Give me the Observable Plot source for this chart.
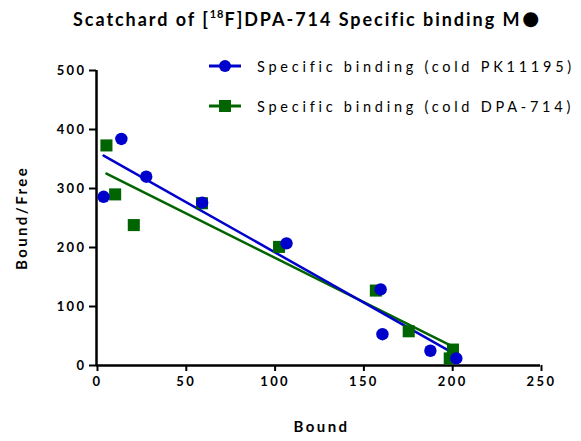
<!DOCTYPE html>
<html>
<head>
<meta charset="utf-8">
<script src="https://cdn.jsdelivr.net/npm/d3@7"></script>
<script src="https://cdn.jsdelivr.net/npm/@observablehq/plot@0.6"></script>
<style>
  body { margin: 0; background: #fff; }
  #wrap { position: relative; width: 581px; height: 441px; font-family: Lato, "Open Sans", sans-serif; color: #000; }
  #title { position: absolute; left: 73px; top: 8px; font-size: 18px; line-height: 22px; font-weight: bold; letter-spacing: 1.95px; white-space: nowrap; }
  #title sup { font-size: 11px; letter-spacing: 1px; vertical-align: 8px; line-height: 0; }
  #title .dot { font-size: 30px; vertical-align: -3px; line-height: 0; letter-spacing: 0; }
  .lg { position: absolute; left: 209px; display: flex; align-items: center; font-size: 14.5px; letter-spacing: 3.75px; white-space: nowrap; }
  .lg svg { margin-right: 16px; }
</style>
</head>
<body>
<div id="wrap">
  <div id="chart"></div>
  <div id="title">Scatchard of [<sup>18</sup>F]DPA-714 Specific binding M<span class="dot">●</span></div>
  <div id="legend"></div>
</div>
<script>
// Scatchard data: Bound vs Bound/Free, two competitors
const boundPK   = [4, 14, 28, 59.5, 107, 160, 161, 188, 202.6];
const ratioPK   = [286, 384, 320, 276, 207, 129, 53, 25, 12];
const boundDPA  = [5.6, 10.5, 21, 59.4, 102.8, 157.3, 175.8, 198.9, 200.7];
const ratioDPA  = [373, 290, 238, 275, 201, 127, 58, 12, 27];

const seriesNames = ["Specific binding (cold PK11195)", "Specific binding (cold DPA-714)"];
const seriesColors = ["#0000cd", "#006400"];
const seriesSymbols = ["circle", "square"];

const xTicks = [0, 50, 100, 150, 200, 250];
const yTicks = [0, 100, 200, 300, 400, 500];

const pk = boundPK.map((b, i) => ({bound: b, ratio: ratioPK[i]}));
const dpa = boundDPA.map((b, i) => ({bound: b, ratio: ratioDPA[i]}));

const tickStyle = {fontSize: 13, fontWeight: "bold"};

const chart = Plot.plot({
  width: 581,
  height: 441,
  marginTop: 70,
  marginRight: 41,
  marginBottom: 76,
  marginLeft: 96,
  style: {fontFamily: "Lato, 'Open Sans', sans-serif", letterSpacing: "2.4px", background: "#fff"},
  x: {domain: [0, 250], ticks: xTicks},
  y: {domain: [0, 500], ticks: yTicks},
  marks: [
    Plot.axisX({ticks: xTicks, tickSize: 6, tickPadding: 5, strokeWidth: 2, label: null, dx: 1, ...tickStyle}),
    Plot.axisY({ticks: yTicks, tickSize: 7, tickPadding: 3, strokeWidth: 2, label: null, ...tickStyle}),
    Plot.ruleY([0], {stroke: "#000", strokeWidth: 2.5}),
    Plot.ruleX([0], {stroke: "#000", strokeWidth: 2.5, y1: 0, y2: 500}),
    Plot.linearRegressionY(dpa, {x: "bound", y: "ratio", stroke: seriesColors[1], strokeWidth: 2.5, ci: 0}),
    Plot.linearRegressionY(pk, {x: "bound", y: "ratio", stroke: seriesColors[0], strokeWidth: 2.5, ci: 0}),
    Plot.dot(dpa, {x: "bound", y: "ratio", symbol: seriesSymbols[1], fill: seriesColors[1], r: 6.8}),
    Plot.dot(pk, {x: "bound", y: "ratio", symbol: seriesSymbols[0], fill: seriesColors[0], r: 6.2}),
    Plot.text(["Bound"], {frameAnchor: "bottom", dy: 66, dx: 3, fontSize: 15, fontWeight: "bold", letterSpacing: "6px"}),
    Plot.text(["Bound/Free"], {frameAnchor: "left", textAnchor: "middle", dx: -74, rotate: -90, fontSize: 15, fontWeight: "bold", letterSpacing: "4.5px"})
  ]
});
document.getElementById("chart").appendChild(chart);

// legend rows with line + symbol swatches
const legend = document.getElementById("legend");
const rowTops = [57, 97];
seriesNames.forEach((name, i) => {
  const row = document.createElement("div");
  row.className = "lg";
  row.style.top = rowTops[i] + "px";
  const c = seriesColors[i];
  const sym = seriesSymbols[i] === "circle"
    ? `<circle cx="16" cy="9" r="6" fill="${c}"/>`
    : `<rect x="10" y="3" width="12" height="12" fill="${c}"/>`;
  row.innerHTML = `<svg width="32" height="18"><line x1="0" x2="32" y1="9" y2="9" stroke="${c}" stroke-width="3"/>${sym}</svg><span>${name}</span>`;
  legend.appendChild(row);
});
</script>
</body>
</html>
